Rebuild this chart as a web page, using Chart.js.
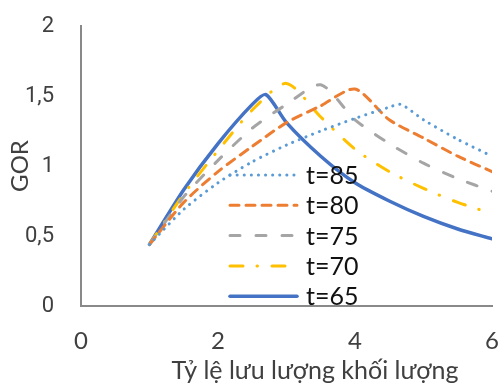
<!DOCTYPE html>
<html><head><meta charset="utf-8">
<script src="https://cdn.jsdelivr.net/npm/chart.js@4/dist/chart.umd.min.js"></script>
<style>html,body{margin:0;padding:0;background:#fff}#wrap{width:498px;height:388px;position:relative}</style>
</head><body><div id="wrap"><canvas id="c" width="498" height="388"></canvas></div>
<script>
// ---- data ----
const seriesLabels = ['t=85', 't=80', 't=75', 't=70', 't=65'];
const xTicks = [0, 2, 4, 6];
const yTicks = [0, 0.5, 1, 1.5, 2];
const xTitle = 'Tỷ lệ lưu lượng khối lượng';
const yTitle = 'GOR';

const x85 = [1, 1.5, 2, 2.5, 3, 3.5, 4, 4.5, 4.67, 5, 5.5, 6];
const y85 = [0.44, 0.69, 0.88, 1.03, 1.15, 1.25, 1.34, 1.42, 1.44, 1.33, 1.19, 1.07];
const x80 = [1, 1.5, 2, 2.5, 3, 3.5, 4, 4.5, 5, 5.5, 6];
const y80 = [0.44, 0.74, 0.96, 1.14, 1.31, 1.43, 1.55, 1.33, 1.20, 1.07, 0.96];
const x75 = [1, 1.5, 2, 2.5, 3, 3.5, 4, 4.5, 5, 5.5, 6];
const y75 = [0.44, 0.78, 1.04, 1.27, 1.44, 1.58, 1.33, 1.16, 1.02, 0.91, 0.82];
const x70 = [1, 1.5, 2, 2.5, 3, 3.5, 4, 4.5, 5, 5.5, 6];
const y70 = [0.44, 0.80, 1.11, 1.40, 1.59, 1.35, 1.12, 0.96, 0.84, 0.74, 0.66];
const x65 = [1, 1.5, 2, 2.5, 2.7, 3, 3.5, 4, 4.5, 5, 5.5, 6];
const y65 = [0.44, 0.83, 1.16, 1.44, 1.51, 1.31, 1.07, 0.88, 0.75, 0.64, 0.55, 0.48];

const pts = (xs, ys) => xs.map((x, i) => ({x: x, y: ys[i]}));

const styles = [
  {color: '#5B9BD5', dash: [0.1, 7], width: 3},
  {color: '#ED7D31', dash: [9, 7], width: 3},
  {color: '#A5A5A5', dash: [10, 16], width: 3},
  {color: '#FFC000', dash: [13, 14, 0.5, 14.5], width: 3},
  {color: '#4472C4', dash: [], width: 3.5}
];
const seriesData = [pts(x85, y85), pts(x80, y80), pts(x75, y75), pts(x70, y70), pts(x65, y65)];

const datasets = seriesLabels.map((lab, i) => ({
  label: lab,
  data: seriesData[i],
  borderColor: styles[i].color,
  backgroundColor: styles[i].color,
  borderWidth: styles[i].width,
  borderDash: styles[i].dash,
  borderCapStyle: 'round',
  borderJoinStyle: 'round',
  pointRadius: 0,
  tension: 0.25,
  fill: false
}));

const legendPlugin = {
  id: 'insideLegend',
  afterDatasetsDraw(chart) {
    const ctx = chart.ctx;
    ctx.save();
    chart.data.datasets.forEach((ds, i) => {
      const y = 175 + i * 30.3;
      ctx.beginPath();
      ctx.lineWidth = ds.borderWidth;
      ctx.strokeStyle = ds.borderColor;
      ctx.lineCap = 'round';
      ctx.setLineDash(ds.borderDash || []);
      ctx.moveTo(230, y);
      ctx.lineTo(297, y);
      ctx.stroke();
      ctx.setLineDash([]);
      ctx.fillStyle = '#111';
      ctx.font = '25px Lato, "Liberation Sans", sans-serif';
      ctx.textBaseline = 'middle';
      ctx.textAlign = 'left';
      ctx.fillText(ds.label, 306, y + 1);
    });
    // x-axis title (offset to the right as in the reference)
    ctx.fillStyle = '#404040';
    ctx.font = '25px Lato, sans-serif';
    ctx.textAlign = 'center';
    ctx.textBaseline = 'middle';
    ctx.fillText(xTitle, 315, 371);
    ctx.restore();
  }
};

new Chart(document.getElementById('c'), {
  type: 'line',
  data: {datasets: datasets},
  plugins: [legendPlugin],
  options: {
    responsive: false,
    animation: false,
    layout: {padding: {top: 26, right: 6, left: 0, bottom: 0}},
    plugins: {legend: {display: false}, tooltip: {enabled: false}},
    scales: {
      x: {
        type: 'linear', min: 0, max: 6,
        afterFit(s) { s.height = 82; s.paddingLeft = 0; s.paddingRight = 0; },
        afterBuildTicks(s) { s.ticks = xTicks.map(v => ({value: v})); },
        grid: {display: false, drawTicks: false},
        border: {display: true, color: '#898989', width: 2},
        ticks: {padding: 21, color: '#404040', font: {family: 'Lato', size: 24}, maxRotation: 0},
        title: {display: false}
      },
      y: {
        type: 'linear', min: 0, max: 2,
        afterFit(s) { s.width = 81; s.paddingTop = 0; s.paddingBottom = 0; },
        afterBuildTicks(s) { s.ticks = yTicks.map(v => ({value: v})); },
        grid: {display: false, drawTicks: false},
        border: {display: true, color: '#898989', width: 2},
        ticks: {padding: 27, color: '#404040', font: {family: 'Roboto', size: 22},
          callback: v => String(v).replace('.', ',')},
        title: {display: true, text: yTitle, color: '#404040', font: {family: 'Lato', size: 24}, padding: {top: 6, bottom: 0}}
      }
    }
  }
});
</script></body></html>
